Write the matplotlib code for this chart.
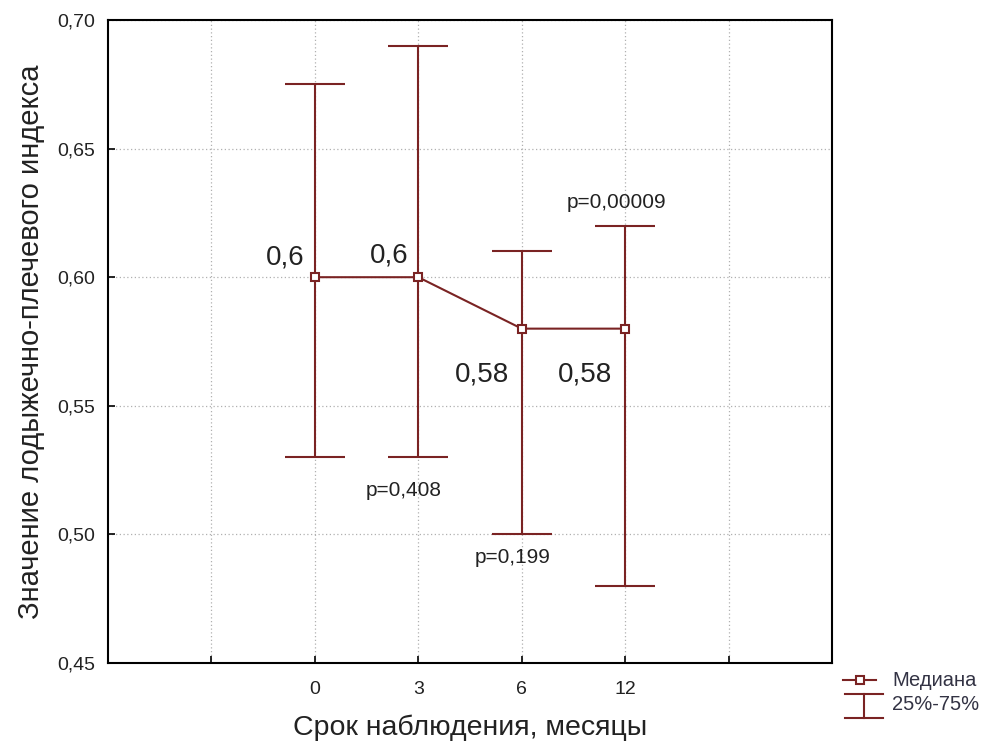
import matplotlib
matplotlib.use("Agg")
import matplotlib.pyplot as plt
from matplotlib.lines import Line2D
import numpy as np

plt.rcParams['font.family'] = ['Liberation Sans', 'DejaVu Sans']

categories = ["0", "3", "6", "12"]
medians = [0.60, 0.60, 0.58, 0.58]
q25 = [0.53, 0.53, 0.50, 0.48]
q75 = [0.675, 0.69, 0.61, 0.62]
median_labels = ["0,6", "0,6", "0,58", "0,58"]
p_labels = ["p=0,408", "p=0,199", "p=0,00009"]
yticks = [0.45, 0.50, 0.55, 0.60, 0.65, 0.70]
ytick_labels = ["0,45", "0,50", "0,55", "0,60", "0,65", "0,70"]

color = "#7a2323"
tcol = "#222222"

fig = plt.figure(figsize=(9.91, 7.49), dpi=100)
ax = fig.add_axes([108/991, 1-663/749, (832-108)/991, (663-20)/749])

x = np.arange(2, 2 + len(categories))
med = np.array(medians)
lo = med - np.array(q25)
hi = np.array(q75) - med

ax.errorbar(x, med, yerr=[lo, hi], fmt='none', ecolor=color, elinewidth=1.5,
            capsize=21.6, capthick=1.5, zorder=3)
ax.plot(x, med, color=color, lw=1.5, marker='s', markersize=6,
        markerfacecolor='white', markeredgecolor=color, markeredgewidth=1.5, zorder=4)

ax.set_xlim(0, 7)
ax.set_ylim(0.45, 0.70)
ax.set_xticks(range(1, 7))
ax.set_xticklabels([""] + categories + [""])
ax.set_yticks(yticks)
ax.set_yticklabels(ytick_labels)
ax.tick_params(direction='in', length=5, width=1.2, labelsize=14, colors='black',
               labelcolor=tcol)
ax.tick_params(axis='x', pad=13)
ax.tick_params(axis='y', pad=9)
ax.grid(True, linestyle=(0, (1, 2)), color='#b0b0b0', lw=0.9)
ax.set_axisbelow(True)
for s in ax.spines.values():
    s.set_linewidth(1.5)

# annotations
med_pos = [(1.71, 0.6075), (2.72, 0.6083), (3.62, 0.562), (4.61, 0.562)]
for (tx, ty), t in zip(med_pos, median_labels):
    ax.text(tx, ty, t, fontsize=20, ha='center', va='center', color=tcol)
p_pos = [(2.86, 0.517), (3.91, 0.491), (4.92, 0.629)]
for (tx, ty), t in zip(p_pos, p_labels):
    ax.text(tx, ty, t, fontsize=15, ha='center', va='center', color=tcol)

ax.set_xlabel("Срок наблюдения, месяцы", fontsize=20.5, labelpad=12, color=tcol)
ax.set_ylabel("Значение лодыжечно-плечевого индекса", fontsize=21, labelpad=9, color=tcol)

# legend
def fx(px): return px / 991
def fy(py): return 1 - py / 749
fig.add_artist(Line2D([fx(843), fx(876)], [fy(680), fy(680)], color=color, lw=1.5,
                      transform=fig.transFigure))
fig.add_artist(Line2D([fx(860)], [fy(680)], color=color, marker='s', markersize=6,
                      markerfacecolor='white', markeredgewidth=1.5, transform=fig.transFigure))
fig.add_artist(Line2D([fx(845), fx(883)], [fy(694), fy(694)], color=color, lw=1.5,
                      transform=fig.transFigure))
fig.add_artist(Line2D([fx(864), fx(864)], [fy(694), fy(718)], color=color, lw=1.5,
                      transform=fig.transFigure))
fig.add_artist(Line2D([fx(845), fx(883)], [fy(718), fy(718)], color=color, lw=1.5,
                      transform=fig.transFigure))
fig.text(fx(892), fy(680), "Медиана", fontsize=14.5, va='center', ha='left', color='#333344')
fig.text(fx(892), fy(705), "25%-75%", fontsize=14.5, va='center', ha='left', color='#333344')

fig.savefig("out.png", dpi=100)
